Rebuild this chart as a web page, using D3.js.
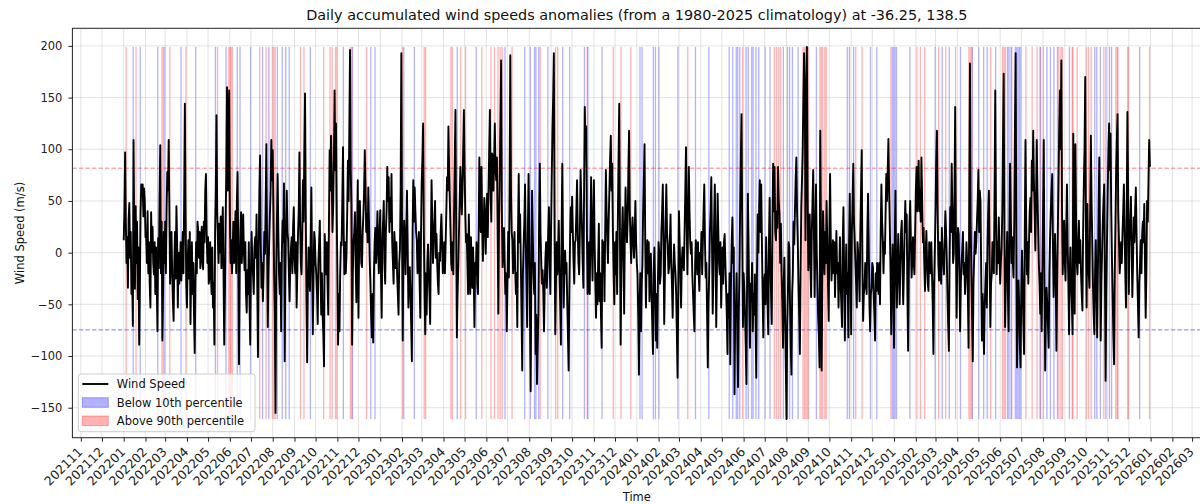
<!DOCTYPE html>
<html>
<head>
<meta charset="utf-8">
<script src="https://cdn.jsdelivr.net/npm/d3@7"></script>
<style>
body { margin: 0; background: #fff; }
svg { display: block; font-family: "DejaVu Sans", sans-serif; }
</style>
</head>
<body>
<div id="chart"></div>
<script>
// daily anomalies, one inner array per month
const wind2022 = [
  [12,40,97,30,-10,15,-34,33,48,-5,20,-40,-20,-71,109,20,-35,45,-10,30,-45,5,-89,-30,40,66,60,66,35,62,50],
  [15,15,-10,40,-20,10,-30,-53,39,0,25,-10,-21,10,-40,5,-30,-76,14,-15,50,104,-20,30,-85,-40,20,-10],
  [30,-20,40,78,60,109,40,-30,0,20,-20,-47,-66,-10,20,-25,45,10,-53,0,-30,-14,10,-27,-5,20,-20,50,144,40,-30],
  [-53,-10,12,-25,20,-69,-20,10,-40,-10,-60,-97,-30,10,-20,30,21,-5,20,-15,5,25,-10,-16,30,10,60,76,20,-10],
  [15,-30,-24,10,-20,-40,5,-53,-30,-89,20,60,133,40,12,-10,28,0,35,-15,20,44,-20,-89,-40,30,80,160,60,100,157],
  [40,-10,12,-20,0,30,-10,5,40,-20,50,78,0,-108,-20,20,39,-10,15,37,0,-17,10,-40,-58,-17,-40,10,-50,-89],
  [-17,20,-10,-21,-40,5,15,-5,37,-30,-101,0,60,94,10,-34,-10,-47,-20,20,-1,50,105,10,-72,-20,10,37,60,109,70],
  [99,40,-21,-60,-155,-20,30,76,20,-21,-40,-10,-76,0,31,10,67,-105,-20,30,60,20,12,-20,-47,-10,5,15,-20,25,44],
  [-5,-20,10,-53,-20,18,40,97,30,-10,-21,20,70,30,100,154,40,-47,-106,-30,5,-20,-37,10,63,-10,-79,-30,20,12],
  [-10,-21,-40,-69,-10,10,31,-20,-60,-20,-60,-80,-110,18,-5,-21,10,-30,-60,30,99,60,113,70,20,44,90,157,80,125,40],
  [-20,-89,-40,-76,-20,10,7,50,102,20,-21,10,-20,-1,40,89,50,120,196,80,44,-89,-20,12,20,39,-10,-48,20,70],
  [-63,10,50,20,-10,-14,20,37,60,99,63,20,37,10,63,30,-8,-30,-60,-82,-40,-87,-20,10,24,-10,12,40,2,-20,20]
];
const wind2023 = [
  [41,-20,-63,10,30,50,-10,-30,20,40,83,50,73,20,53,30,76,10,-10,-30,20,5,-15,10,-21,-40,-60,-10,3,60,193],
  [20,-85,0,31,10,-21,20,60,10,-53,-20,-14,-40,-70,-105,20,70,30,63,40,20,12,-20,-11,20,-30,-63,20],
  [70,90,125,20,-40,-79,-20,-60,-10,8,-20,-40,-69,10,70,30,-10,12,30,50,-5,18,-10,-30,-40,0,-8,20,37,10,-20],
  [-14,10,-20,8,40,73,60,122,80,50,20,-10,-17,10,-21,40,90,138,20,-82,-40,-14,20,50,83,60,37,60,100,138],
  [80,37,10,18,-10,-40,37,0,-40,15,-10,-34,5,-20,-72,-10,-21,10,-30,-40,20,92,44,20,83,30,-8,20,53,37,-1],
  [30,57,15,60,100,138,57,30,96,92,60,90,125,80,70,92,20,-59,30,76,130,186,40,-14,10,24,-10,-40,-20,-76],
  [-30,20,-24,60,191,60,20,12,-20,-1,20,-17,-40,-20,-72,20,76,10,37,-10,-60,-114,-20,8,30,66,10,-30,-72,20,76],
  [20,-60,-134,-20,60,20,-21,-40,-10,-98,-60,-127,-90,-59,30,86,20,-8,-30,-17,-40,-76,-30,-5,10,-34,-10,20,44,-10,-40],
  [20,73,120,150,193,20,-79,-30,10,-21,0,31,-20,-50,-89,20,86,10,-53,-20,2,-20,-10,-47,-80,-114,-40,10,44,20],
  [54,20,-8,-30,10,12,40,70,20,-10,-21,20,80,50,24,-10,-34,60,141,100,122,20,-40,-34,10,-40,20,73,10,-27,30],
  [70,10,-30,-63,-20,-50,-10,28,-47,-20,-60,-92,12,-20,10,-47,20,80,40,12,-10,31,60,90,113,60,86,20,-20,-50],
  [10,-21,20,-40,30,90,144,20,-89,-20,20,44,0,-59,20,63,30,10,31,80,118,40,12,-10,20,34,10,-5,20,50,10]
];
const wind2024 = [
  [-10,-21,-60,-118,-50,-20,-76,-30,-11,40,70,105,10,-53,-10,12,-20,10,-47,-20,-1,-40,-70,-98,-20,5,-30,-85,-40,-92,-30],
  [10,-1,-30,-21,20,40,66,10,-69,-20,30,66,20,8,-20,-14,10,37,-10,-30,-63,-20,8,-10,-20,-40,-80,-121,-40],
  [40,10,-20,-53,-10,5,-10,-17,20,60,102,30,-21,30,83,40,10,-1,10,-21,-40,-60,-76,-10,12,-5,-21,10,-20,-37,0],
  [-5,20,-21,10,40,66,10,-24,-10,-59,-111,-50,-21,20,40,73,10,-59,-20,30,66,10,-72,-20,57,20,-10,-21,10,-53],
  [-20,5,-30,10,18,-10,-34,-60,-98,-40,-63,-20,-108,-30,10,34,-10,5,-137,-60,-53,-20,-80,-130,-60,-21,40,90,134,20,-72],
  [-20,-37,-60,-90,-127,-20,57,10,-50,-92,-30,-47,-10,-76,-40,-60,-21,-70,-121,-20,37,0,40,70,20,66,10,-40,-82,-30],
  [-21,-50,15,-20,-50,-79,10,53,-10,-40,-69,30,86,40,83,20,12,40,24,83,50,37,-10,28,-20,-50,-92,-30,-5,-60,-110],
  [-161,-70,-40,10,5,-50,-90,-118,-40,-21,30,8,40,70,92,40,12,-30,-60,-98,-20,44,70,99,150,193,164,12,110,199,60],
  [-17,10,37,-10,-43,20,50,80,20,-43,10,66,0,-30,-63,-80,-111,118,20,-114,-20,40,10,-21,20,-10,50,10,-30,-66],
  [20,76,10,-27,-10,12,-20,10,-43,-10,21,-20,-10,-53,-20,15,-30,-50,-72,10,44,-20,-85,-30,8,-40,-20,-82,10,57,-20],
  [-79,20,50,86,30,12,-10,-30,-53,10,-1,-20,-47,20,60,99,-10,-66,-40,-34,-10,-21,-40,20,57,10,-50,-76,-40,-34],
  [-10,-14,-40,-60,-85,-20,-37,-10,-24,-40,-10,-50,20,66,30,12,-20,10,-1,40,76,50,80,110,60,24,-20,-79,-20,8,-40]
];
const wind2025 = [
  [-92,10,60,-20,-53,-10,18,-20,-50,-10,20,31,-10,-50,-20,20,50,20,37,-40,-95,-20,30,50,10,-24,-5,15,-10,-21,20],
  [60,83,40,70,89,40,60,30,92,50,10,24,-10,-37,0,21,-10,-30,-37,10,-5,-20,10,-21,-50,-98,-30,2],
  [40,90,118,40,-10,-27,10,-14,-30,24,0,-10,-21,10,40,20,-5,-40,-70,-95,-10,44,20,86,40,-10,-1,60,141,20,-63],
  [-10,24,18,-20,-76,-30,-10,2,20,-21,-10,-40,-20,10,-8,-40,-92,50,183,30,-21,-60,-105,-30,-5,20,-1,10,31,50],
  [80,20,60,50,-20,-85,-40,-70,-98,-50,-30,-10,-53,10,40,60,-10,-72,-30,-21,10,5,-20,60,157,40,-21,10,-10,34,0],
  [-30,-10,5,40,110,173,20,-72,-30,-8,20,-40,-76,10,86,40,-10,15,-10,-24,30,120,193,10,-111,-60,-27,-50,-90,-111],
  [-40,2,-30,-70,-98,20,109,30,-21,10,-30,10,40,53,20,89,60,118,70,40,2,50,109,60,24,-10,-30,-59,-20,-76,-20],
  [40,109,-20,-114,-60,-34,-50,-70,-92,-20,15,40,60,76,10,-43,-10,18,-20,-95,-30,20,70,120,157,100,186,40,-21,10,31],
  [-10,-27,20,66,10,-30,-79,-20,5,-30,-50,-79,115,20,-59,105,30,-10,-21,10,31,-10,12,-20,-40,-56,20,66,100,170],
  [20,-53,47,0,-20,-34,40,113,50,12,-30,-60,-79,-20,12,-30,-82,-20,40,92,10,-85,-30,2,30,50,66,-20,-124,-40,12],
  [60,100,125,80,115,40,-5,-40,-80,-108,-20,28,80,110,134,40,12,-20,-8,10,-10,18,40,66,20,-20,-53,40,136,60],
  [-40,10,30,54,10,-43,-10,34,10,40,63,20,-21,-50,-82,-30,-10,12,-20,18,30,10,47,-10,-63,-20,50,30,70,109,83]
];
const years = [2022, 2023, 2024, 2025];

// shaded days, counted from 1 Jan 2022
const belowDays = [13,23,48,58,81,102,130,145,161,165,180,197,206,218,225,230,235,265,312,325,351,357,398,413,474,501,542,570,578,584,586,590,603,624,634,655,660,680,734,737,753,756,761,788,813,832,861,866,871,873,876,885,888,893,895,899,903,912,919,938,944,947,951,959,985,1029,1032,1038,1062,1071,1093,1095,1097,1099,1118,1154,1164,1174,1190,1207,1216,1223,1228,1240,1257,1259,1262,1268,1270,1272,1274,1276,1304,1313,1318,1323,1328,1345,1381,1384,1389,1397,1402,1405,1445];
const aboveDays = [3,17,54,56,65,88,133,149,151,152,154,193,202,211,213,215,251,256,284,293,296,301,303,322,324,345,396,427,429,465,467,479,486,509,522,527,532,535,538,552,592,614,617,659,696,707,721,802,880,925,928,931,934,966,968,970,972,974,990,992,994,997,999,1041,1050,1091,1128,1133,1139,1159,1169,1183,1202,1204,1206,1233,1250,1252,1254,1263,1283,1292,1299,1303,1308,1330,1333,1335,1349,1350,1356,1369,1372,1376,1394,1411,1413,1414,1428,1429,1459];

const p10 = -74.7, p90 = 81.7;
const yTicks = [-150, -100, -50, 0, 50, 100, 150, 200];

const width = 1200, height = 504;
const plot = { left: 72.4, right: 1201.2, top: 28.3, bottom: 437.7 };

let data = [];
[wind2022, wind2023, wind2024, wind2025].forEach((months, yi) => {
    months.forEach((vals, m) => {
        vals.forEach((v, i) => data.push({ date: new Date(years[yi], m, 1 + i), value: v }));
    });
});

const start = new Date(2022, 0, 1);

let svg = d3.select("#chart").append("svg")
    .attr("width", width)
    .attr("height", height);

// matplotlib style 5% margins
const tExt = d3.extent(data, d => d.date);
const tPad = (tExt[1] - tExt[0]) * 0.05;
let x = d3.scaleTime()
    .domain([new Date(+tExt[0] - tPad), new Date(+tExt[1] + tPad)])
    .range([plot.left, plot.right]);

const vExt = d3.extent(data, d => d.value);
const vPad = (vExt[1] - vExt[0]) * 0.05;
let y = d3.scaleLinear()
    .domain([vExt[0] - vPad, vExt[1] + vPad])
    .range([plot.bottom, plot.top]);

// shaded spans, one day wide (at least a pixel)
function spans(days, color) {
    svg.append("g").selectAll("rect")
        .data(days)
        .join("rect")
        .attr("x", d => x(d3.timeDay.offset(start, d)) - 0.3)
        .attr("width", 1.3)
        .attr("y", y(vExt[1]))
        .attr("height", y(vExt[0]) - y(vExt[1]))
        .attr("fill", color)
        .attr("fill-opacity", 0.3);
}
spans(belowDays, "blue");
spans(aboveDays, "red");

// grid
const months = d3.timeMonth.range(d3.timeMonth.ceil(x.domain()[0]), x.domain()[1]);
svg.append("g").selectAll("line")
    .data(months)
    .join("line")
    .attr("x1", d => x(d)).attr("x2", d => x(d))
    .attr("y1", plot.top).attr("y2", plot.bottom)
    .attr("stroke", "#b0b0b0").attr("stroke-opacity", 0.35);
svg.append("g").selectAll("line")
    .data(yTicks)
    .join("line")
    .attr("x1", plot.left).attr("x2", plot.right)
    .attr("y1", d => y(d)).attr("y2", d => y(d))
    .attr("stroke", "#b0b0b0").attr("stroke-opacity", 0.35);

// percentile lines
[[p90, "red"], [p10, "blue"]].forEach(([v, c]) => {
    svg.append("line")
        .attr("x1", plot.left).attr("x2", plot.right)
        .attr("y1", y(v)).attr("y2", y(v))
        .attr("stroke", c).attr("stroke-opacity", 0.5)
        .attr("stroke-dasharray", "4.5,2");
});

svg.append("path")
    .datum(data)
    .attr("fill", "none")
    .attr("stroke", "black")
    .attr("stroke-width", 1.9)
    .attr("stroke-linejoin", "round")
    .attr("d", d3.line().x(d => x(d.date)).y(d => y(d.value)));

// axes
let gx = svg.append("g")
    .attr("transform", `translate(0,${plot.bottom})`)
    .call(d3.axisBottom(x).tickValues(months).tickFormat(d3.timeFormat("%Y%m")).tickSize(4));
gx.select(".domain").remove();

let gy = svg.append("g")
    .attr("transform", `translate(${plot.left},0)`)
    .call(d3.axisLeft(y).tickValues(yTicks).tickSize(4).tickPadding(6));
gy.select(".domain").remove();

svg.selectAll(".tick line").attr("stroke", "#222");
svg.selectAll(".tick text").attr("fill", "#222").style("font-size", "11.5px").style("font-family", "DejaVu Sans");
gx.selectAll("text")
    .attr("x", 0).attr("y", 0).attr("dy", 0)
    .attr("text-anchor", "end")
    .attr("transform", "translate(2,15) rotate(-45)")
    .style("font-size", "12.5px");

// spines
svg.append("rect")
    .attr("x", plot.left).attr("y", plot.top)
    .attr("width", plot.right - plot.left).attr("height", plot.bottom - plot.top)
    .attr("fill", "none").attr("stroke", "#222").attr("stroke-width", 1);

svg.append("text")
    .attr("x", (plot.left + plot.right) / 2).attr("y", 20)
    .attr("text-anchor", "middle")
    .style("font-size", "14.4px").attr("fill", "#111")
    .text("Daily accumulated wind speeds anomalies (from a 1980-2025 climatology) at -36.25, 138.5");

svg.append("text")
    .attr("x", (plot.left + plot.right) / 2).attr("y", 501)
    .attr("text-anchor", "middle")
    .style("font-size", "11.5px").attr("fill", "#111")
    .text("Time");

svg.append("text")
    .attr("transform", `translate(24,${(plot.top + plot.bottom) / 2}) rotate(-90)`)
    .attr("text-anchor", "middle")
    .style("font-size", "11.5px").attr("fill", "#111")
    .text("Wind Speed (m/s)");

// legend
let lg = svg.append("g").attr("transform", "translate(78.3,374)");
lg.append("rect")
    .attr("width", 176.7).attr("height", 57.7).attr("rx", 3)
    .attr("fill", "white").attr("fill-opacity", 0.8)
    .attr("stroke", "#cccccc");
lg.append("line")
    .attr("x1", 4).attr("x2", 30).attr("y1", 10).attr("y2", 10)
    .attr("stroke", "black").attr("stroke-width", 1.9);
[["blue", 23.7], ["red", 42]].forEach(([c, yy]) => {
    lg.append("rect")
        .attr("x", 4).attr("y", yy).attr("width", 26).attr("height", 9.6)
        .attr("fill", c).attr("fill-opacity", 0.3)
        .attr("stroke", c).attr("stroke-opacity", 0.3);
});
lg.selectAll("text.lab")
    .data(["Wind Speed", "Below 10th percentile", "Above 90th percentile"])
    .join("text")
    .attr("class", "lab")
    .attr("x", 38.5)
    .attr("y", (d, i) => 10 + i * 18.4)
    .attr("dy", "0.36em")
    .style("font-size", "11.5px").attr("fill", "#111")
    .text(d => d);
</script>
</body>
</html>
